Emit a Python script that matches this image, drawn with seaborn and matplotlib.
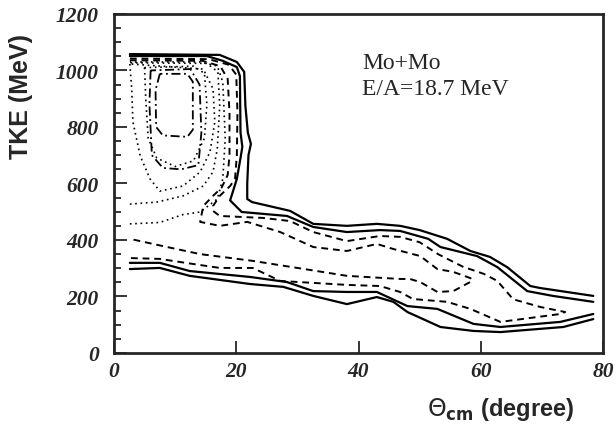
import numpy as np
import pandas as pd
import seaborn as sns
import matplotlib.pyplot as plt
from matplotlib.ticker import MultipleLocator

# contour lines (theta_cm in degree, TKE in MeV)
solid_outer_x = [2.6, 17.3, 20.1, 21.3, 21.5, 21.9, 22.4, 22.0, 21.8, 21.8, 22.6, 28.8, 32.6, 38.1, 43.0, 46.8, 50.0, 54.5, 58.3, 61.5, 64.3, 68.1, 69.7, 78.4]
solid_outer_y = [1058, 1055, 1030, 995, 874, 780, 740, 700, 600, 545, 534, 503, 457, 450, 457, 450, 435, 404, 361, 340, 304, 237, 230, 202]
solid_inner_x = [2.6, 15.2, 17.8, 20.1, 20.6, 20.7, 21.0, 20.7, 20.1, 19.0, 20.9, 28.3, 32.6, 38.1, 43.5, 46.8, 51.4, 53.4, 59.4, 62.7, 67.6, 71.8, 78.4]
solid_inner_y = [1051, 1051, 1034, 1012, 980, 780, 730, 690, 616, 540, 499, 485, 446, 428, 435, 432, 404, 375, 343, 304, 219, 202, 181]
solid_low1_x = [2.6, 7.5, 12.4, 22.3, 28.3, 32.6, 38.1, 43.0, 48.0, 52.9, 58.8, 63.2, 73.0, 78.4]
solid_low1_y = [319, 319, 290, 269, 251, 219, 216, 216, 166, 156, 103, 92, 110, 138]
solid_low2_x = [2.6, 7.5, 12.4, 22.3, 27.7, 32.6, 38.1, 43.0, 45.7, 48.0, 53.4, 58.8, 63.2, 73.5, 78.4]
solid_low2_y = [297, 301, 273, 244, 234, 202, 173, 198, 181, 145, 92, 78, 74, 92, 120]

# dashed contour, outer loop
dash_outer_x = [2.6, 15.5, 18.8, 20.0, 20.2, 20.1, 19.8, 19.0, 17.3, 16.2, 16.2, 17.3, 24.4, 28.8, 32.6, 38.1, 43.5, 46.8, 50.0, 53.0, 57.1, 60.5, 62.7, 65.3, 69.7, 73.8,
                73.0, 63.2, 58.3, 54.5, 48.9, 46.8, 43.5, 38.1, 27.2, 22.7, 17.3, 10.8, 7.5, 2.6]
dash_outer_y = [1042, 1040, 1020, 985, 850, 700, 616, 591, 556, 520, 503, 485, 478, 467, 428, 396, 414, 411, 392, 350, 305, 280, 255, 190, 163, 145,
                138, 110, 156, 181, 191, 216, 237, 241, 255, 301, 301, 322, 333, 336]
# dashed contour, inner loop
dash_inner_x = [2.6, 14.5, 17.4, 18.6, 18.9, 18.9, 18.6, 17.6, 16.2, 14.6, 14.1, 17.3, 21.8, 27.2, 32.6, 38.1, 43.0, 45.7, 50.1, 52.9, 55.5, 58.3,
                58.6, 55.5, 52.9, 50.1, 48.4, 46.8, 38.1, 30.0, 22.7, 14.1, 8.7, 2.6]
dash_inner_y = [1036, 1034, 1015, 970, 850, 700, 630, 585, 556, 520, 464, 450, 464, 428, 375, 361, 386, 368, 343, 297, 287, 265,
                255, 219, 216, 251, 262, 262, 273, 301, 326, 350, 375, 404]

# dotted contours
dot1_x = [2.6, 7.5, 11.3, 14.1, 16.9, 17.8, 18.2, 17.8, 16.9, 14.0, 2.6]
dot1_y = [457, 462, 490, 499, 545, 616, 758, 959, 1016, 1030, 1030]
dot2_x = [2.6, 7.0, 11.3, 14.6, 16.2, 16.9, 17.3, 17.0, 15.2, 2.6]
dot2_y = [527, 534, 556, 591, 641, 722, 874, 995, 1025, 1027]
dot3_x = [2.6, 2.9, 3.1, 4.3, 5.9, 7.5, 11.3, 14.1, 15.7, 16.5, 16.2, 14.6, 2.6]
dot3_y = [1023, 935, 818, 697, 616, 573, 591, 641, 711, 818, 935, 1005, 1023]
dot4_x = [5.0, 5.2, 5.6, 7.0, 10.0, 13.0, 14.8, 15.2, 14.8, 13.0, 5.0]
dot4_y = [1010, 900, 760, 690, 660, 680, 760, 880, 990, 1015, 1010]

# dash-dot contours
dd1_x = [6.0, 5.8, 6.2, 8.0, 11.0, 13.8, 14.3, 14.0, 12.5, 6.0]
dd1_y = [1000, 880, 700, 655, 650, 665, 780, 950, 1005, 1000]
dd2_x = [7.5, 6.8, 6.9, 8.0, 12.0, 12.9, 12.9, 12.0, 7.5]
dd2_y = [988, 930, 800, 770, 765, 790, 960, 988, 988]

solids = [(solid_outer_x, solid_outer_y), (solid_inner_x, solid_inner_y),
          (solid_low1_x, solid_low1_y), (solid_low2_x, solid_low2_y)]
dashed = [(dash_outer_x, dash_outer_y), (dash_inner_x, dash_inner_y)]
dotted = [(dot1_x, dot1_y), (dot2_x, dot2_y), (dot3_x, dot3_y), (dot4_x, dot4_y)]
dashdot = [(dd1_x, dd1_y), (dd2_x, dd2_y)]

sns.set_style("ticks")
plt.rcParams['font.family'] = ['Liberation Serif', 'DejaVu Serif']

fig = plt.figure(figsize=(6.16, 4.27), dpi=100)
ax = fig.add_axes([0.185, 0.171, 0.794, 0.794])

for xs, ys in solids:
    sns.lineplot(x=xs, y=ys, sort=False, estimator=None, color="black", lw=1.6, ax=ax)
for xs, ys in dashed:
    l = sns.lineplot(x=xs, y=ys, sort=False, estimator=None, color="black", lw=1.4, ax=ax)
    l.lines[-1].set_dashes((3.5, 2.5))
for xs, ys in dotted:
    l = sns.lineplot(x=xs, y=ys, sort=False, estimator=None, color="black", lw=1.2, ax=ax)
    l.lines[-1].set_dashes((1, 2.2))
for xs, ys in dashdot:
    l = sns.lineplot(x=xs, y=ys, sort=False, estimator=None, color="black", lw=1.3, ax=ax)
    l.lines[-1].set_dashes((5, 2, 1, 2))

ax.set_xlim(0, 80)
ax.set_ylim(0, 1200)
ax.xaxis.set_major_locator(MultipleLocator(20))
ax.yaxis.set_major_locator(MultipleLocator(200))
ax.yaxis.set_minor_locator(MultipleLocator(50))
ax.tick_params(axis="both", which="major", direction="in", length=9, width=1.3,
               labelsize=15.5)
ax.tick_params(axis="y", which="major", pad=11)
ax.tick_params(axis="x", which="major", pad=6)
ax.tick_params(axis="y", which="minor", direction="in", length=5, width=1.3)
ax.tick_params(top=False, right=False)
for lab in ax.get_xticklabels() + ax.get_yticklabels():
    lab.set_fontweight("bold")
    lab.set_fontstyle("italic")
for s in ax.spines.values():
    s.set_linewidth(2)
    s.set_visible(True)

ax.set_ylabel("TKE (MeV)", family="Liberation Sans", fontweight="bold", fontsize=18)
ax.yaxis.set_label_coords(-0.165, 0.76)
ax.set_xlabel(r"$\Theta_{\mathbf{cm}}$ (degree)", family="Liberation Sans", fontweight="bold", fontsize=17)
ax.xaxis.set_label_coords(0.79, -0.125)

ax.text(0.508, 0.858, "Mo+Mo", transform=ax.transAxes, fontsize=17, va="center")
ax.text(0.508, 0.779, "E/A=18.7 MeV", transform=ax.transAxes, fontsize=17, va="center")

fig.savefig("out.png", dpi=100)
